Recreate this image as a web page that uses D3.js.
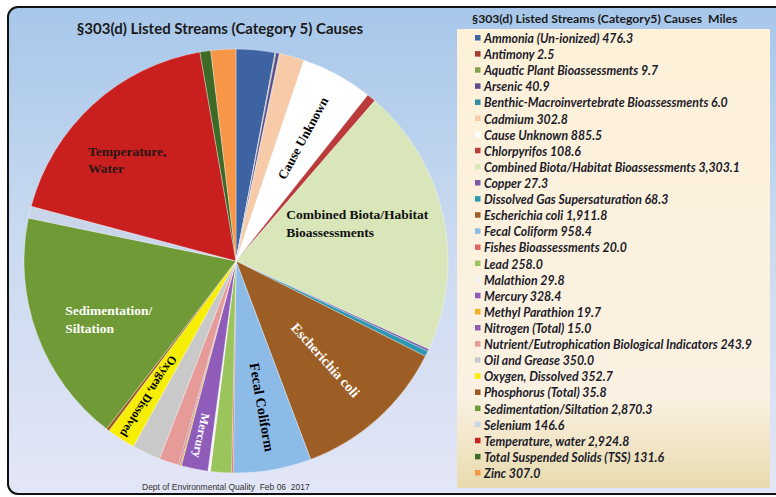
<!DOCTYPE html>
<html>
<head>
<meta charset="utf-8">
<script src="https://cdn.jsdelivr.net/npm/d3@7"></script>
<style>
  body { margin: 0; background: #fff; }
  svg { display: block; }
  text { white-space: pre; }
</style>
</head>
<body>
<div id="chart"></div>
<script>
var causes = ["Ammonia (Un-ionized)", "Antimony", "Aquatic Plant Bioassessments", "Arsenic",
  "Benthic-Macroinvertebrate Bioassessments", "Cadmium", "Cause Unknown", "Chlorpyrifos",
  "Combined Biota/Habitat Bioassessments", "Copper", "Dissolved Gas Supersaturation",
  "Escherichia coli", "Fecal Coliform", "Fishes Bioassessments", "Lead", "Malathion", "Mercury",
  "Methyl Parathion", "Nitrogen (Total)", "Nutrient/Eutrophication Biological Indicators",
  "Oil and Grease", "Oxygen, Dissolved", "Phosphorus (Total)", "Sedimentation/Siltation",
  "Selenium", "Temperature, water", "Total Suspended Solids (TSS)", "Zinc"];

var miles = [476.3, 2.5, 9.7, 40.9, 6.0, 302.8, 885.5, 108.6, 3303.1, 27.3, 68.3, 1911.8, 958.4,
  20.0, 258.0, 29.8, 328.4, 19.7, 15.0, 243.9, 350.0, 352.7, 35.8, 2870.3, 146.6, 2924.8, 131.6, 307.0];

var colors = ["#3d63a3", "#a83a34", "#86a04e", "#5e4a8c", "#2f8fa1", "#f8cba8", "#ffffff", "#bb3a3a",
  "#d9e6b9", "#7a5aa8", "#2e97b1", "#9c5e24", "#8dbbe8", "#e06262", "#9cc45c", "#f4f4f4", "#8f5db9",
  "#f2b021", "#8b5db1", "#e79b98", "#c9c9c9", "#f7ee05", "#9b5a1b", "#6f9a36", "#c9d5e9", "#c9201f",
  "#3d6b25", "#f79646"];

var chartTitle = "§303(d) Listed Streams (Category 5) Causes";
var legendTitle = "§303(d) Listed Streams (Category5) Causes  Miles";
var footer = "Dept of Environmental Quality  Feb 06  2017";

// which slices get a label on the pie
var sliceLabels = [
  {name: "Cause Unknown", lines: ["Cause Unknown"], mode: "radial", f: 0.66, da: 0, size: 13, color: "#000"},
  {name: "Combined Biota/Habitat Bioassessments", lines: ["Combined Biota/Habitat", "Bioassessments"], mode: "flat", f: 0.6, da: -5, size: 13.5, color: "#111"},
  {name: "Escherichia coli", lines: ["Escherichia coli"], mode: "radial", f: 0.63, da: 0, size: 14, color: "#fff"},
  {name: "Fecal Coliform", lines: ["Fecal Coliform"], mode: "radial", f: 0.70, da: 0, size: 14, color: "#000"},
  {name: "Mercury", lines: ["Mercury"], mode: "radial", f: 0.84, da: 0, size: 12, color: "#fff"},
  {name: "Oxygen, Dissolved", lines: ["Oxygen, Dissolved"], mode: "radial", f: 0.76, da: 0, size: 12, color: "#000"},
  {name: "Sedimentation/Siltation", lines: ["Sedimentation/", "Siltation"], mode: "flat", f: 0.66, da: -4.4, size: 13.5, color: "#fff"},
  {name: "Temperature, water", lines: ["Temperature,", "Water"], mode: "flat", f: 0.70, da: -4.8, size: 13.5, color: "#2a1616"}
];

var width = 776, height = 497;
var cx = 236, cy = 261, R = 212;

var svg = d3.select("#chart").append("svg").attr("width", width).attr("height", height);
var defs = svg.append("defs");

var bg = defs.append("linearGradient").attr("id", "bg").attr("x1", 0).attr("y1", 0).attr("x2", 0).attr("y2", 1);
bg.append("stop").attr("offset", "0%").attr("stop-color", "#a7c7ea");
bg.append("stop").attr("offset", "45%").attr("stop-color", "#c8d9f0");
bg.append("stop").attr("offset", "100%").attr("stop-color", "#e3e6f6");

var lg = defs.append("linearGradient").attr("id", "lg").attr("x1", 0).attr("y1", 0).attr("x2", 0).attr("y2", 1);
lg.append("stop").attr("offset", "0%").attr("stop-color", "#fdf1d9");
lg.append("stop").attr("offset", "80%").attr("stop-color", "#fbf1e2");
lg.append("stop").attr("offset", "100%").attr("stop-color", "#e8dbae");

svg.append("rect").attr("x", 8).attr("y", 7).attr("width", 790).attr("height", 487).attr("rx", 10)
  .attr("fill", "url(#bg)").attr("stroke", "#111").attr("stroke-width", 2);

svg.append("text").attr("x", 220).attr("y", 34).attr("text-anchor", "middle")
  .attr("font-family", "Lato, 'Open Sans', sans-serif").attr("font-weight", "bold").attr("font-size", 15)
  .attr("fill", "#1a1a1a").text(chartTitle);

// pie
var data = causes.map(function(c, i) { return {name: c, value: miles[i], color: colors[i]}; });
var pie = d3.pie().sort(null).value(function(d) { return d.value; });
var arcs = pie(data);
var arc = d3.arc().innerRadius(0).outerRadius(R);

var g = svg.append("g").attr("transform", "translate(" + cx + "," + cy + ")");
g.selectAll("path.slice")
  .data(arcs)
  .enter().append("path")
  .attr("class", "slice")
  .attr("d", arc)
  .attr("fill", function(d) { return d.data.color; })
  .attr("stroke", "rgba(255,255,255,0.55)")
  .attr("stroke-width", 0.6);

sliceLabels.forEach(function(l) {
  var a = arcs.find(function(d) { return d.data.name === l.name; });
  var mid = (a.startAngle + a.endAngle) / 2 + l.da * Math.PI / 180;
  var x = Math.sin(mid) * R * l.f, y = -Math.cos(mid) * R * l.f;
  var t = g.append("text")
    .attr("font-family", "'Liberation Serif', 'DejaVu Serif', serif")
    .attr("font-weight", "bold").attr("font-size", l.size).attr("fill", l.color);
  if (l.mode === "radial") {
    var rot = mid * 180 / Math.PI - 90;
    t.attr("text-anchor", "middle").attr("dominant-baseline", "central")
      .attr("transform", "translate(" + x + "," + y + ") rotate(" + rot + ")")
      .text(l.lines[0]);
  } else {
    var lh = l.size * 1.3;
    l.lines.forEach(function(s, i) {
      t.append("tspan").attr("x", 0).attr("y", (i - (l.lines.length - 1) / 2) * lh).attr("dominant-baseline", "central").text(s);
    });
    var w = t.node().getBBox().width;
    t.attr("transform", "translate(" + (x - w / 2) + "," + y + ")");
  }
});

// legend
var lx = 457, ly = 29;
svg.append("rect").attr("x", lx).attr("y", ly).attr("width", 313).attr("height", 459).attr("fill", "url(#lg)");
svg.append("text").attr("x", 472).attr("y", 23)
  .attr("font-family", "Lato, 'Open Sans', sans-serif").attr("font-weight", "bold").attr("font-size", 12.2)
  .attr("fill", "#1a1a1a").text(legendTitle);

var fmt = d3.format(",.1f");
var ys = d3.scalePoint().domain(causes).range([38, 473]);
var items = svg.selectAll("g.item").data(data).enter().append("g")
  .attr("class", "item")
  .attr("transform", function(d) { return "translate(475," + ys(d.name) + ")"; });
items.append("rect").attr("x", 0).attr("y", -3).attr("width", 5.5).attr("height", 5.5)
  .attr("fill", function(d) { return d.color; });
items.append("text").attr("x", 9).attr("y", 0.5).attr("dominant-baseline", "central")
  .attr("font-family", "Lato, 'Open Sans', sans-serif").attr("font-weight", "bold").attr("font-style", "italic")
  .attr("font-size", 12.3).attr("fill", "#1c1c2a")
  .text(function(d) { return d.name + " " + fmt(d.value); });

svg.append("text").attr("x", 142).attr("y", 490)
  .attr("font-family", "'Liberation Sans Narrow', 'Liberation Sans', sans-serif").attr("font-size", 8.5)
  .attr("fill", "#333").text(footer);
</script>
</body>
</html>
